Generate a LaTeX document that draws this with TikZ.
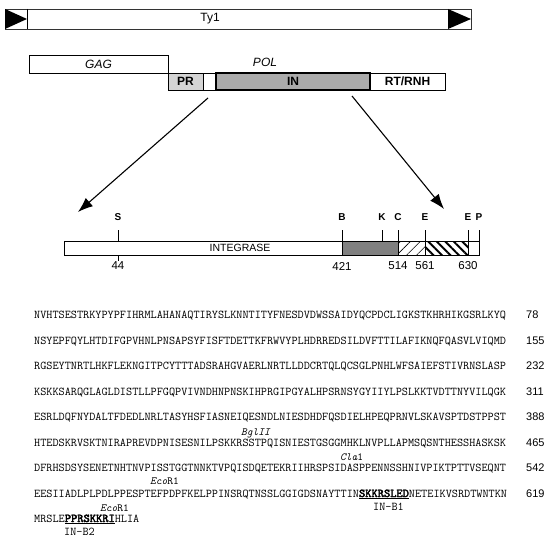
\documentclass[tikz,border=0pt]{standalone}
\usepackage{fontspec}
\setmainfont{Liberation Sans}
\setsansfont{Liberation Sans}
\newfontfamily\motiffont[FakeBold=3]{lmmono10-regular.otf}
\usetikzlibrary{positioning, calc, arrows.meta, patterns.meta}
\tikzstyle{gene} = [rectangle, draw=black, line width=0.9pt, outer sep=0pt, inner sep=0pt, minimum height=18pt, font=\fontsize{12}{14}\selectfont]
\tikzstyle{polbox} = [gene, minimum height=17pt, font=\bfseries\fontsize{12}{14}\selectfont]
\tikzstyle{segment} = [rectangle, draw=black, line width=0.9pt, outer sep=0pt, inner sep=0pt, minimum height=14pt]
\tikzstyle{site} = [inner sep=0pt, font=\bfseries\fontsize{10}{12}\selectfont]
\tikzstyle{aa} = [inner sep=0pt, font=\fontsize{11.5}{13}\selectfont]
\tikzstyle{zoomline} = [line width=1.1pt, -{Latex[length=15pt, width=11pt]}]
\tikzstyle{seq} = [anchor=base west, inner sep=0pt, font=\ttfamily\fontsize{11.9}{13}\selectfont]
\tikzstyle{resnum} = [anchor=base west, inner sep=0pt, font=\fontsize{11}{13}\selectfont]
\tikzstyle{enzyme} = [anchor=base west, inner sep=0pt, font=\ttfamily\fontsize{10.9}{12}\selectfont]
\newcommand{\motif}[1]{\underline{\motiffont #1}}

\begin{document}
\begin{tikzpicture}[x=1pt, y=-1pt]
    \useasboundingbox (0,0) rectangle (554,543);

    % Ty1 element with its LTRs
    \node[gene, draw=black!80, minimum width=466pt, minimum height=20pt, anchor=north west] (ty1) at (5,9) {};
    \node[font=\fontsize{12}{14}\selectfont] (ty1label) at (210,19) {Ty1};
    \fill (ty1.north west) -- (ty1.south west) -- ($(ty1.west)+(22,0)$) -- cycle;
    \draw[line width=0.9pt] ($(ty1.north west)+(22,0)$) -- ($(ty1.south west)+(22,0)$);
    \fill ($(ty1.north east)+(-23,0)$) -- ($(ty1.south east)+(-23,0)$) -- (ty1.east) -- cycle;

    % GAG and POL
    \node[gene, minimum width=139pt, anchor=north west] (gag) at (29,55) {\itshape GAG};
    \node[font=\itshape\fontsize{12}{14}\selectfont] (pol) at (265,62) {POL};
    \node[polbox, fill=black!17, minimum width=35pt, anchor=north west] (pr) at (gag.south east) {PR};
    \node[polbox, minimum width=13pt, right=0pt of pr] (link) {};
    \node[polbox, fill=black!33, line width=1.6pt, minimum width=154pt, right=0pt of link] (inbox) {IN};
    \node[polbox, minimum width=75pt, right=0pt of inbox] (rt) {RT/RNH};

    % integrase map
    \node[segment, minimum width=278pt, anchor=north west] (intw) at (64,241) {};
    \node[inner sep=0pt, font=\fontsize{10.5}{12}\selectfont] (intlabel) at (240,248) {INTEGRASE};
    \node[segment, fill=black!50, minimum width=56pt, right=0pt of intw] (core) {};
    \node[segment, pattern={Lines[angle=45, distance=7pt, line width=0.6pt]}, minimum width=27pt, right=0pt of core] (hatchA) {};
    \node[segment, pattern={Lines[angle=-45, distance=6pt, line width=2pt]}, minimum width=43pt, right=0pt of hatchA] (hatchB) {};
    \node[segment, minimum width=11pt, right=0pt of hatchB] (tail) {};

    \coordinate (zl) at (78,212);
    \coordinate (zr) at (444,209);
    \draw[zoomline] ([shift={(-8,8)}]inbox.south west) -- (zl);
    \draw[zoomline] ([shift={(-18,6)}]inbox.south east) -- (zr);

    \foreach \x/\s/\n [count=\i] in {118/S/44, 342/B/421, 382/K/, 398/C/514, 425/E/561, 468/E/630, 479/P/} {
        \draw[line width=0.9pt] (\x,230) -- (\x,241);
        \node[site] (site\i) at (\x,217) {\s};
        \node[aa] (pos\i) at (\x,266) {\n};
    }
    \draw[line width=0.9pt] (118,255) -- (118,261);

    % sequence
    \node[seq] (l1) at (34,318.5) {NVHTSESTRKYPYPFIHRMLAHANAQTIRYSLKNNTITYFNESDVDWSSAIDYQCPDCLIGKSTKHRHIKGSRLKYQ};
    \node[seq] (l2) at (34,344) {NSYEPFQYLHTDIFGPVHNLPNSAPSYFISFTDETTKFRWVYPLHDRREDSILDVFTTILAFIKNQFQASVLVIQMD};
    \node[seq] (l3) at (34,369.5) {RGSEYTNRTLHKFLEKNGITPCYTTTADSRAHGVAERLNRTLLDDCRTQLQCSGLPNHLWFSAIEFSTIVRNSLASP};
    \node[seq] (l4) at (34,395) {KSKKSARQGLAGLDISTLLPFGQPVIVNDHNPNSKIHPRGIPGYALHPSRNSYGYIIYLPSLKKTVDTTNYVILQGK};
    \node[seq] (l5) at (34,420.5) {ESRLDQFNYDALTFDEDLNRLTASYHSFIASNEIQESNDLNIESDHDFQSDIELHPEQPRNVLSKAVSPTDSTPPST};
    \node[seq] (l6) at (34,446) {HTEDSKRVSKTNIRAPREVDPNISESNILPSKKRSSTPQISNIESTGSGGMHKLNVPLLAPMSQSNTHESSHASKSK};
    \node[seq] (l7) at (34,471.5) {DFRHSDSYSENETNHTNVPISSTGGTNNKTVPQISDQETEKRIIHRSPSIDASPPENNSSHNIVPIKTPTTVSEQNT};
    \node[seq] (l8) at (34,497) {EESIIADLPLPDLPPESPTEFPDPFKELPPINSRQTNSSLGGIGDSNAYTTIN\motif{SKKRSLED}NETEIKVSRDTWNTKN};
    \node[seq] (l9) at (34,522) {MRSLE\motif{PPRSKKRI}HLIA};

    \node[resnum] (n1) at (526,318.5) {78};
    \node[resnum] (n2) at (526,344) {155};
    \node[resnum] (n3) at (526,369.5) {232};
    \node[resnum] (n4) at (526,395) {311};
    \node[resnum] (n5) at (526,420.5) {388};
    \node[resnum] (n6) at (526,446) {465};
    \node[resnum] (n7) at (526,471.5) {542};
    \node[resnum] (n8) at (526,497) {619};

    % restriction sites and IN-B boxes
    \node[enzyme] (bgl) at (241,435) {\itshape BglII};
    \node[enzyme] (cla) at (340,460) {\itshape Cla\upshape 1};
    \node[enzyme] (ecoA) at (150,484.5) {\itshape Eco\upshape R1};
    \node[enzyme] (ecoB) at (100,511) {\itshape Eco\upshape R1};
    \node[seq] (inb1) at (373,510.5) {IN-B1};
    \node[seq] (inb2) at (64,535.5) {IN-B2};
\end{tikzpicture}
\end{document}
